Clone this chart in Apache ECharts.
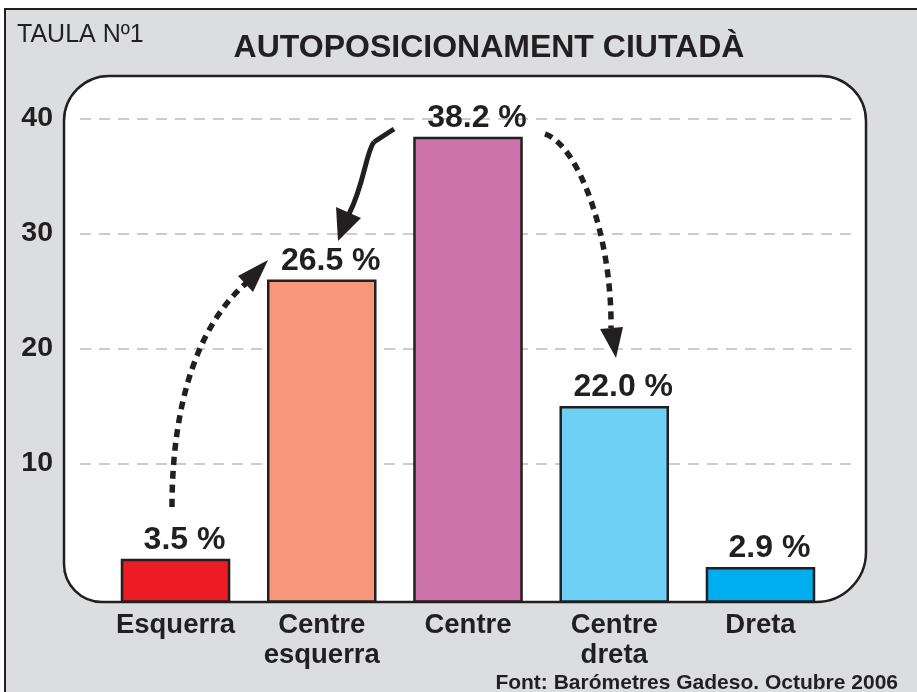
<!DOCTYPE html>
<html>
<head>
<meta charset="utf-8">
<script src="https://cdn.jsdelivr.net/npm/echarts@6/dist/echarts.min.js"></script>
<style>
html,body{margin:0;padding:0;background:#ffffff;}
#main{width:917px;height:692px;}
</style>
</head>
<body>
<div id="main"></div>
<script>
// ---- data ----
const categories = ['Esquerra', 'Centre\nesquerra', 'Centre', 'Centre\ndreta', 'Dreta'];
const barValues = [1.6, 25.9, 38.3, 14.9, 0.9];          // bar heights as drawn in the picture
const barLabels = ['3.5 %', '26.5 %', '38.2 %', '22.0 %', '2.9 %'];
const barColors = ['#ed1c24', '#f7967a', '#cc73ab', '#6fd0f6', '#00aeef'];
const yTicks = [10, 20, 30, 40];
const yMin = -2;
const yMax = 43.7;

const INK = '#231f20';
const FONT = '"Liberation Sans", Arial, Helvetica, sans-serif';

const chart = echarts.init(document.getElementById('main'), null, {renderer: 'canvas'});

const option = {
  animation: false,
  backgroundColor: '#ffffff',
  grid: [
    {left: 102.4, right: 83.4, top: 76, bottom: 90.5, outerBoundsMode: 'none', containLabel: false},
    {left: 80, right: 62, top: 76, bottom: 90.5, outerBoundsMode: 'none', containLabel: false}
  ],
  xAxis: [
    {
      type: 'category', gridIndex: 0, data: categories,
      axisLine: {show: false}, axisTick: {show: false}, splitLine: {show: false},
      axisLabel: {
        show: true, interval: 0, margin: 9,
        color: INK, fontFamily: FONT, fontWeight: 'bold', fontSize: 27.5, lineHeight: 30
      }
    },
    {type: 'value', gridIndex: 1, show: false, min: 0, max: 1}
  ],
  yAxis: [
    {type: 'value', gridIndex: 0, min: yMin, max: yMax, show: false},
    {
      type: 'value', gridIndex: 1, min: yMin, max: yMax,
      axisLine: {show: false},
      axisTick: {show: false, customValues: yTicks},
      axisLabel: {
        show: true, customValues: yTicks, margin: 27,
        color: INK, fontFamily: FONT, fontWeight: 'bold', fontSize: 28.5
      },
      splitLine: {show: true, lineStyle: {color: '#cbcccd', width: 2, type: [11, 8]}}
    }
  ],
  series: [
    {
      type: 'custom',
      xAxisIndex: 0, yAxisIndex: 0,
      z: 5,
      data: categories.map((c, i) => [i, barValues[i]]),
      encode: {x: 0, y: 1},
      renderItem: function (params, api) {
        const i = api.value(0);
        const v = api.value(1);
        const top = api.coord([i, v]);
        const base = api.coord([i, yMin]);
        const w = api.size([1, 0])[0] * 0.732;
        return {
          type: 'group',
          children: [
            {
              type: 'rect',
              shape: {x: top[0] - w / 2, y: top[1], width: w, height: base[1] - top[1]},
              style: {fill: barColors[i], stroke: INK, lineWidth: 2.5}
            },
            {
              type: 'text',
              z2: 10,
              style: {
                text: barLabels[i],
                x: top[0] + 9, y: top[1] - 4,
                align: 'center', verticalAlign: 'bottom',
                fill: INK, font: 'bold 32px ' + FONT
              }
            }
          ]
        };
      }
    }
  ],
  graphic: [
    // outer gray frame
    {type: 'rect', z: -20, shape: {x: 5, y: 9, width: 1000, height: 1000},
     style: {fill: '#dcdddf', stroke: INK, lineWidth: 2}},
    // white rounded panel
    {type: 'rect', z: -10, shape: {x: 64, y: 76, width: 802, height: 526, r: [45, 45, 50, 38]},
     style: {fill: '#ffffff', stroke: INK, lineWidth: 2.5}},
    {type: 'text', z: 50, style: {text: 'TAULA Nº1', x: 17, y: 35, verticalAlign: 'middle', align: 'left',
      fill: INK, font: '25px ' + FONT}},
    {type: 'text', z: 50, style: {text: 'AUTOPOSICIONAMENT CIUTADÀ', x: 489, y: 48, verticalAlign: 'middle', align: 'center',
      fill: INK, font: 'bold 32px ' + FONT}},
    {type: 'text', z: 50, style: {text: 'Font: Barómetres Gadeso. Octubre 2006', x: 898, y: 683, verticalAlign: 'middle', align: 'right',
      fill: INK, font: 'bold 21px ' + FONT}},
    // left dotted arrow (Esquerra -> Centre esquerra)
    {type: 'bezierCurve', z: 60, shape: {x1: 172, y1: 507, cpx1: 172, cpy1: 400, cpx2: 200, cpy2: 320, x2: 250, y2: 280},
     style: {stroke: INK, lineWidth: 5.5, lineDash: [8, 6], fill: null, lineCap: 'butt'}},
    {type: 'polygon', z: 60, shape: {points: [[268, 260], [238, 276], [253, 292]]}, style: {fill: INK}},
    // middle solid arrow (Centre -> Centre esquerra)
    {type: 'polyline', z: 60, shape: {points: [[394, 129], [374, 142]]}, style: {stroke: INK, lineWidth: 5, fill: null}},
    {type: 'bezierCurve', z: 60, shape: {x1: 374, y1: 142, cpx1: 366, cpy1: 152, cpx2: 364, cpy2: 185, x2: 349, y2: 214},
     style: {stroke: INK, lineWidth: 5, fill: null}},
    {type: 'polygon', z: 60, shape: {points: [[338, 241], [336, 207], [361, 218]]}, style: {fill: INK}},
    // right dotted arrow (Centre -> Centre dreta)
    {type: 'bezierCurve', z: 60, shape: {x1: 545, y1: 134, cpx1: 578, cpy1: 145, cpx2: 612, cpy2: 235, x2: 611, y2: 328},
     style: {stroke: INK, lineWidth: 5.5, lineDash: [8, 6], fill: null, lineCap: 'butt'}},
    {type: 'polygon', z: 60, shape: {points: [[616, 358], [600, 329], [623, 327]]}, style: {fill: INK}}
  ]
};

chart.setOption(option);
</script>
</body>
</html>
